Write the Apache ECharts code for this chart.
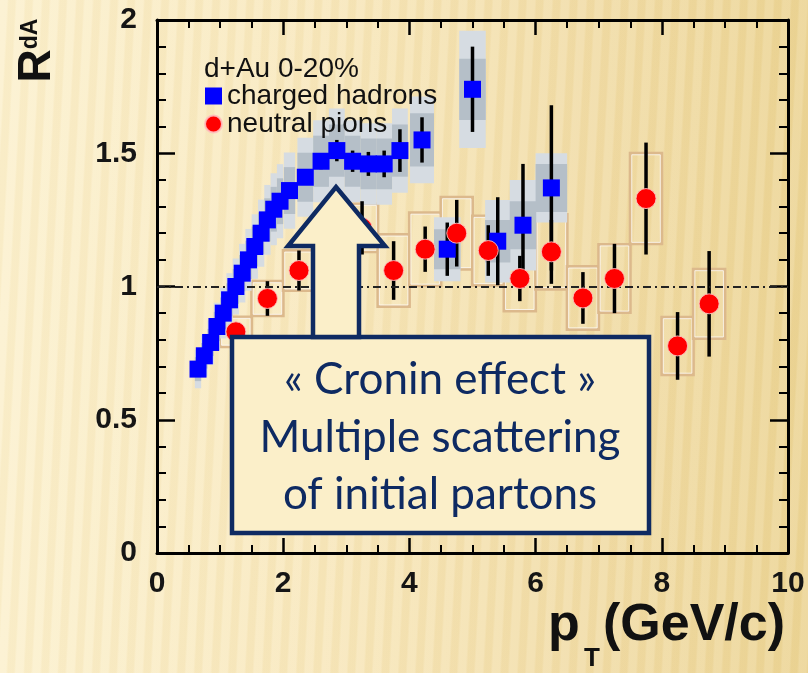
<!DOCTYPE html>
<html>
<head>
<meta charset="utf-8">
<script src="https://cdn.jsdelivr.net/npm/echarts@6/dist/echarts.min.js"></script>
<style>
html,body{margin:0;padding:0;}
#c{width:808px;height:673px;
background:
 repeating-linear-gradient(93deg, rgba(255,255,255,0.10) 0px, rgba(255,255,255,0.10) 7px, rgba(200,160,70,0.06) 9px, rgba(200,160,70,0.06) 15px, rgba(255,255,255,0.10) 17px),
 linear-gradient(90deg,#fcf1cf 0%,#f8e8bd 40%,#f1dca6 75%,#ecd596 100%);}
</style>
</head>
<body>
<div id="c"></div>
<script>
// ---- charged hadrons (blue squares) ----
const chPt   = [0.65,0.75,0.85,0.95,1.05,1.15,1.25,1.35,1.45,1.55,1.65,1.75,1.85,1.95,2.1,2.35,2.6,2.85,3.1,3.35,3.6,3.85,4.2,4.6,5.0,5.4,5.8,6.25];
const chVal  = [0.69,0.74,0.79,0.85,0.90,0.95,1.00,1.05,1.10,1.15,1.20,1.25,1.29,1.32,1.36,1.41,1.47,1.51,1.47,1.46,1.46,1.51,1.55,1.14,1.74,1.17,1.23,1.37];
const chStat = [0.01,0.01,0.01,0.01,0.01,0.01,0.01,0.01,0.01,0.01,0.01,0.01,0.01,0.01,0.015,0.02,0.03,0.04,0.04,0.045,0.05,0.08,0.085,0.1,0.16,0.165,0.23,0.31];
const chSysIn  = [0.045,0.048,0.051,0.055,0.059,0.062,0.065,0.068,0.072,0.075,0.078,0.081,0.084,0.086,0.088,0.092,0.096,0.098,0.096,0.095,0.095,0.098,0.1,0.075,0.115,0.08,0.09,0.09];
const chSysOut = [0.072,0.078,0.083,0.089,0.095,0.1,0.105,0.11,0.116,0.121,0.126,0.131,0.135,0.139,0.143,0.148,0.154,0.158,0.154,0.153,0.153,0.158,0.163,0.12,0.22,0.155,0.17,0.13];
const chHalfW  = [0.05,0.05,0.05,0.05,0.05,0.05,0.05,0.05,0.05,0.05,0.05,0.05,0.05,0.05,0.09,0.125,0.125,0.125,0.125,0.125,0.125,0.125,0.19,0.21,0.21,0.2,0.21,0.25];

// ---- neutral pions (red circles) ----
const piPt   = [1.25,1.75,2.25,2.75,3.25,3.75,4.25,4.75,5.25,5.75,6.25,6.75,7.25,7.75,8.25,8.75];
const piVal  = [0.83,0.955,1.06,1.12,1.22,1.06,1.14,1.20,1.135,1.03,1.13,0.957,1.03,1.33,0.777,0.935];
const piStat = [0.025,0.065,0.075,0.085,0.1,0.11,0.085,0.125,0.095,0.085,0.12,0.097,0.13,0.21,0.127,0.198];
const piSys  = [0.056,0.065,0.075,0.09,0.09,0.135,0.137,0.135,0.13,0.122,0.14,0.118,0.128,0.17,0.108,0.13];
const piHalfW = 0.25;

// ---- axes ----
const xTicks = [0,2,4,6,8,10];
const yTicks = [0,0.5,1,1.5,2];

const chart = echarts.init(document.getElementById('c'), null, {renderer:'canvas'});

function boxRender(fill, stroke){
  return function(params, api){
    const x = api.value(0), y = api.value(1), h = api.value(2), w = api.value(3);
    const p1 = api.coord([x - w, y + h]);
    const p2 = api.coord([x + w, y - h]);
    const rect = {x:p1[0], y:p1[1], width:p2[0]-p1[0], height:p2[1]-p1[1]};
    if (stroke) {
      return {type:'group', children:[
        {type:'rect', shape:rect, style:{fill:'none', stroke:stroke, lineWidth:3}},
        {type:'rect', shape:{x:rect.x+1.5, y:rect.y+1.5, width:rect.width-3, height:rect.height-3}, style:{fill:'none', stroke:'rgba(255,255,255,0.75)', lineWidth:1}}
      ]};
    }
    return {type:'rect', shape:rect, style:{fill:fill}};
  };
}
function errRender(params, api){
  const x = api.value(0), y = api.value(1), e = api.value(2);
  const a = api.coord([x, y + e]), b = api.coord([x, y - e]);
  return {type:'line', shape:{x1:a[0], y1:a[1], x2:b[0], y2:b[1]}, style:{stroke:'#000', lineWidth:3.5}};
}

const axisCommonX = {
  type:'value', min:0, max:10, interval:2,
  axisLine:{show:true, onZero:false, lineStyle:{color:'#000', width:3}},
  axisTick:{show:true, inside:true, length:15, lineStyle:{color:'#000', width:2.5}},
  minorTick:{show:true, splitNumber:4, length:8, lineStyle:{color:'#000', width:2}},
  splitLine:{show:false}
};
const axisCommonY = {
  type:'value', min:0, max:2, interval:0.5,
  axisLine:{show:true, onZero:false, lineStyle:{color:'#000', width:3}},
  axisTick:{show:true, inside:true, length:18, lineStyle:{color:'#000', width:2.5}},
  minorTick:{show:true, splitNumber:5, length:9, lineStyle:{color:'#000', width:2}},
  splitLine:{show:false}
};
const labelStyle = {fontSize:30, fontWeight:'bold', color:'#151515', fontFamily:'"Liberation Sans", Arial, sans-serif'};

const navy = '#0e2a62';
const cream = '#fbefc9';

chart.setOption({
  animation:false,
  backgroundColor:'transparent',
  grid:{left:157, right:20, top:20, bottom:120, containLabel:false},
  title:{text:'d+Au 0-20%', left:204, top:55, padding:0,
    textStyle:{fontSize:28, fontWeight:'normal', color:'#111', fontFamily:'"Liberation Sans", Arial, sans-serif'}},
  legend:{left:204, top:82, orient:'vertical', padding:0, itemGap:0, itemWidth:17, itemHeight:17, selectedMode:false,
    textStyle:{fontSize:28, lineHeight:26, color:'#111', fontFamily:'"Liberation Sans", Arial, sans-serif'},
    data:[{name:'charged hadrons', icon:'rect'},{name:'neutral pions', icon:'circle'}]},
  xAxis:[
    Object.assign({}, axisCommonX, {position:'bottom', axisLabel:Object.assign({margin:16, formatter:v=>xTicks.includes(v)?String(v):''}, labelStyle)}),
    Object.assign({}, axisCommonX, {position:'top', axisLabel:{show:false}})
  ],
  yAxis:[
    Object.assign({}, axisCommonY, {position:'left', axisLabel:Object.assign({margin:20, formatter:v=>yTicks.includes(v)?String(v):''}, labelStyle)}),
    Object.assign({}, axisCommonY, {position:'right', axisLabel:{show:false}})
  ],
  series:[
    {type:'custom', name:'piSys', renderItem:boxRender(null,'#dcb98c'), z:1,
      data:piPt.map((x,i)=>[x, piVal[i], piSys[i], piHalfW]), encode:{x:0,y:1},
      markLine:{silent:true, symbol:'none', label:{show:false},
        lineStyle:{color:'#222', width:2, type:[8,4,2,4]}, data:[{yAxis:1}]}},
    {type:'custom', name:'chSysOut', renderItem:boxRender('#d6dce2'), z:2,
      data:chPt.map((x,i)=>[x, chVal[i], chSysOut[i], chHalfW[i]]), encode:{x:0,y:1}},
    {type:'custom', name:'chSysIn', renderItem:boxRender('#b5bfc8'), z:3,
      data:chPt.map((x,i)=>[x, chVal[i], chSysIn[i], chHalfW[i]]), encode:{x:0,y:1}},
    {type:'custom', name:'chErr', renderItem:errRender, z:4,
      data:chPt.map((x,i)=>[x, chVal[i], chStat[i]]), encode:{x:0,y:1}},
    {type:'custom', name:'piErr', renderItem:errRender, z:4,
      data:piPt.map((x,i)=>[x, piVal[i], piStat[i]]), encode:{x:0,y:1}},
    {type:'scatter', name:'charged hadrons', symbol:'rect', symbolSize:17, z:5,
      itemStyle:{color:'#0000ff', opacity:1},
      data:chPt.map((x,i)=>[x, chVal[i]])},
    {type:'scatter', name:'neutral pions', symbol:'circle', symbolSize:20, z:6,
      itemStyle:{color:'#ff0000', borderColor:'rgba(255,190,190,0.9)', borderWidth:1, opacity:1},
      data:piPt.map((x,i)=>[x, piVal[i]])}
  ],
  graphic:[
    // axis titles
    {type:'text', x:37, y:66, rotation:Math.PI/2, z:10,
      style:{text:'R', fontSize:46, fontWeight:'bold', fill:'#111', align:'center', verticalAlign:'middle', fontFamily:'"Liberation Sans", Arial, sans-serif'}},
    {type:'text', x:31, y:34, rotation:Math.PI/2, z:10,
      style:{text:'dA', fontSize:23, fontWeight:'bold', fill:'#111', align:'center', verticalAlign:'middle', fontFamily:'"Liberation Sans", Arial, sans-serif'}},
    {type:'text', x:548, y:652, z:10,
      style:{text:'p', fontSize:52, fontWeight:'bold', fill:'#111', align:'left', verticalAlign:'bottom', fontFamily:'"Liberation Sans", Arial, sans-serif'}},
    {type:'text', x:584, y:672, z:10,
      style:{text:'T', fontSize:26, fontWeight:'bold', fill:'#111', align:'left', verticalAlign:'bottom', fontFamily:'"Liberation Sans", Arial, sans-serif'}},
    {type:'text', x:785, y:652, z:10,
      style:{text:'(GeV/c)', fontSize:52, fontWeight:'bold', fill:'#111', align:'right', verticalAlign:'bottom', fontFamily:'"Liberation Sans", Arial, sans-serif'}},
    // callout box
    {type:'rect', z:20, shape:{x:232, y:337, width:417, height:196},
      style:{fill:cream, stroke:navy, lineWidth:4.5}},
    {type:'polygon', z:21, shape:{points:[[336,187],[385,246],[359,246],[359,337],[313,337],[313,246],[288,246]]},
      style:{fill:cream, stroke:navy, lineWidth:4.5, lineJoin:'miter'}},
    {type:'text', z:22, x:440, y:380,
      style:{text:'« Cronin effect »', fontSize:44, fontWeight:'normal', fill:navy, align:'center', verticalAlign:'middle', fontFamily:'Lato, "Open Sans", sans-serif'}},
    {type:'text', z:22, x:440, y:438,
      style:{text:'Multiple scattering', fontSize:44, fontWeight:'normal', fill:navy, align:'center', verticalAlign:'middle', fontFamily:'Lato, "Open Sans", sans-serif'}},
    {type:'text', z:22, x:440, y:495,
      style:{text:'of initial partons', fontSize:44, fontWeight:'normal', fill:navy, align:'center', verticalAlign:'middle', fontFamily:'Lato, "Open Sans", sans-serif'}}
  ]
});
</script>
</body>
</html>
